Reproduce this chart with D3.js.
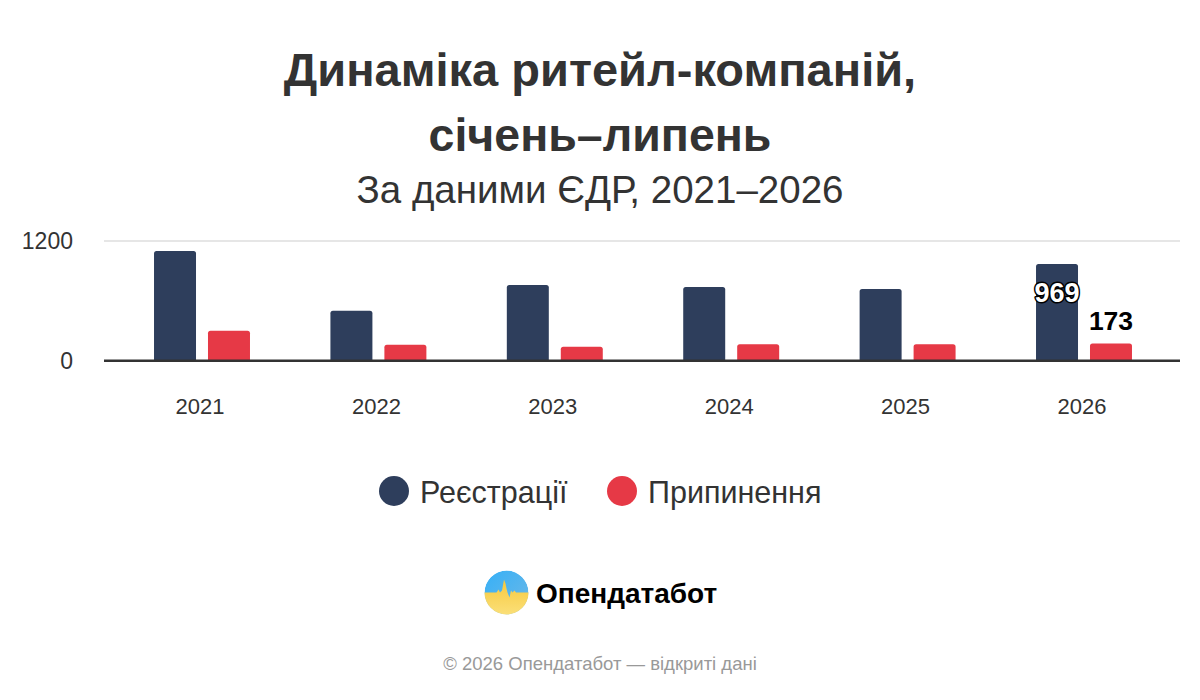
<!DOCTYPE html>
<html>
<head>
<meta charset="utf-8">
<script src="https://cdn.jsdelivr.net/npm/d3@7/dist/d3.min.js"></script>
<style>
  html, body { margin: 0; padding: 0; background: #ffffff; }
  svg { display: block; }
  text { font-family: "Liberation Sans", Arial, Helvetica, sans-serif; }
</style>
</head>
<body>
<svg id="chart" width="1200" height="700"></svg>
<script>
const years = ["2021", "2022", "2023", "2024", "2025", "2026"];
const seriesNames = ["Реєстрації", "Припинення"];
const registrations = [1100, 500, 760, 740, 720, 969];
const terminations = [300, 160, 140, 165, 165, 173];
const yTicks = [0, 1200];
const colors = ["#2e3e5c", "#e63946"];
const titleLines = ["Динаміка ритейл-компаній,", "січень–липень"];
const subtitle = "За даними ЄДР, 2021–2026";
const brand = "Опендатабот";
const footer = "© 2026 Опендатабот — відкриті дані";

const svg = d3.select("#chart");
const W = 1200;

// Titles
svg.append("text").attr("x", W/2).attr("y", 86).attr("text-anchor", "middle")
  .attr("font-size", 47).attr("font-weight", 700).attr("fill", "#333").text(titleLines[0]);
svg.append("text").attr("x", W/2).attr("y", 151).attr("text-anchor", "middle")
  .attr("font-size", 46.5).attr("font-weight", 700).attr("fill", "#333").text(titleLines[1]);
svg.append("text").attr("x", W/2).attr("y", 203).attr("text-anchor", "middle")
  .attr("font-size", 38.5).attr("fill", "#333").text(subtitle);

// Scales
const y = d3.scaleLinear().domain([0, 1200]).range([360.7, 241]);
const x0 = d3.scaleBand().domain(years).range([113.8, 1172.2]).paddingInner(0.456).paddingOuter(0.228);
const x1 = d3.scaleBand().domain(seriesNames).range([0, x0.bandwidth()]).paddingInner(0.222);

// grid
const gridLeft = 104, gridRight = 1180;
svg.append("g").selectAll("line").data(yTicks.filter(t => t !== 0)).join("line")
  .attr("x1", gridLeft).attr("x2", gridRight)
  .attr("y1", d => y(d)).attr("y2", d => y(d))
  .attr("stroke", "#e6e6e6").attr("stroke-width", 2);

// y tick labels
svg.append("g").selectAll("text").data(yTicks).join("text")
  .attr("x", 73).attr("y", d => y(d)).attr("dy", "0.36em")
  .attr("text-anchor", "end").attr("font-size", 23).attr("fill", "#333")
  .text(d => d);

// bars
function topRounded(xp, yp, w, h, r) {
  r = Math.min(r, h, w/2);
  return `M${xp},${yp + h}V${yp + r}Q${xp},${yp} ${xp + r},${yp}H${xp + w - r}Q${xp + w},${yp} ${xp + w},${yp + r}V${yp + h}Z`;
}
const data = years.map((yr, i) => ({ year: yr, values: [registrations[i], terminations[i]] }));
const groups = svg.append("g").selectAll("g").data(data).join("g")
  .attr("transform", d => `translate(${x0(d.year)},0)`);
groups.selectAll("path").data(d => d.values.map((v, k) => ({ v, k }))).join("path")
  .attr("d", d => topRounded(x1(seriesNames[d.k]), y(d.v), x1.bandwidth(), y(0) - y(d.v), 2.5))
  .attr("fill", d => colors[d.k]);

// baseline
svg.append("line").attr("x1", gridLeft).attr("x2", gridRight)
  .attr("y1", y(0)).attr("y2", y(0)).attr("stroke", "#333").attr("stroke-width", 2.5);

// x labels
svg.append("g").selectAll("text").data(years).join("text")
  .attr("x", d => x0(d) + x0.bandwidth()/2 - 2).attr("y", 414)
  .attr("text-anchor", "middle").attr("font-size", 22).attr("fill", "#333").text(d => d);

// value labels for last year
const last = years.length - 1;
const lx = x0(years[last]);
svg.append("text")
  .attr("x", lx + x1(seriesNames[0]) + x1.bandwidth()/2)
  .attr("y", y(registrations[last]) + 38)
  .attr("text-anchor", "middle").attr("font-size", 27).attr("font-weight", 700)
  .attr("fill", "#fff").attr("stroke", "#000").attr("stroke-width", 3)
  .attr("paint-order", "stroke").attr("stroke-linejoin", "round")
  .text(registrations[last]);
svg.append("text")
  .attr("x", lx + x1(seriesNames[1]) + x1.bandwidth()/2)
  .attr("y", y(terminations[last]) - 13)
  .attr("text-anchor", "middle").attr("font-size", 26.5).attr("font-weight", 700)
  .attr("fill", "#000").text(terminations[last]);

// legend
const legendItems = [{ name: seriesNames[0], cx: 394 }, { name: seriesNames[1], cx: 622 }];
const lg = svg.append("g");
legendItems.forEach((it, i) => {
  lg.append("circle").attr("cx", it.cx).attr("cy", 491).attr("r", 15).attr("fill", colors[i]);
  lg.append("text").attr("x", it.cx + 26).attr("y", 492).attr("dy", "0.36em")
    .attr("font-size", 30.5).attr("fill", "#333").text(it.name);
});

// logo
const defs = svg.append("defs");
const gBlue = defs.append("linearGradient").attr("id", "gBlue").attr("x1", "0").attr("y1", "0").attr("x2", "1").attr("y2", "1");
gBlue.append("stop").attr("offset", "0").attr("stop-color", "#35b0f7");
gBlue.append("stop").attr("offset", "1").attr("stop-color", "#6fb8e6");
const gYel = defs.append("linearGradient").attr("id", "gYel").attr("x1", "0").attr("y1", "0").attr("x2", "0").attr("y2", "1");
gYel.append("stop").attr("offset", "0").attr("stop-color", "#f6c83c");
gYel.append("stop").attr("offset", "1").attr("stop-color", "#fbe07a");
const lcx = 506.5, lcy = 592.5, lr = 22;
defs.append("clipPath").attr("id", "logoClip").append("circle").attr("cx", lcx).attr("cy", lcy).attr("r", lr);
const logo = svg.append("g").attr("clip-path", "url(#logoClip)");
logo.append("circle").attr("cx", lcx).attr("cy", lcy).attr("r", lr).attr("fill", "url(#gBlue)");
const wave = [[-23, 0], [-10, 0], [-8, -3], [-6.5, 0], [-4.5, -2], [-2.5, -13], [-1, -9], [0, -4], [1, 0], [3, 5], [4.5, -2], [6, 0], [8, -2], [9.5, 0], [23, 0]];
const wavePath = d3.line()(wave.map(p => [lcx + p[0], lcy + p[1]])) + `L${lcx + 23},${lcy + 23}L${lcx - 23},${lcy + 23}Z`;
logo.append("path").attr("d", wavePath).attr("fill", "url(#gYel)");
svg.append("text").attr("x", 536).attr("y", 603).attr("font-family", "Inter, 'Noto Sans', sans-serif")
  .attr("font-size", 28).attr("font-weight", 600).attr("fill", "#000").text(brand);

// footer
svg.append("text").attr("x", W/2).attr("y", 670).attr("text-anchor", "middle")
  .attr("font-size", 18.5).attr("fill", "#999").text(footer);
</script>
</body>
</html>
